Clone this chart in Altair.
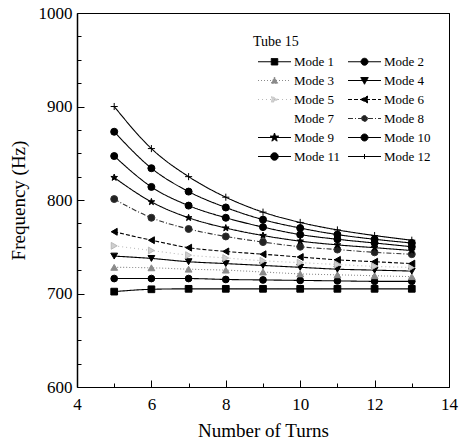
import altair as alt
import pandas as pd

# ---------------- data ----------------
turns = [5, 6, 7, 8, 9, 10, 11, 12, 13]
modes = [f"Mode {i}" for i in range(1, 13)]

mode1 = [702, 704.5, 705, 705, 705, 705, 705, 705, 705]
mode2 = [716, 716, 716, 715, 714.5, 714, 713.5, 713, 713]
mode3 = [728, 727.5, 726, 725, 723, 721, 720, 719, 718]
mode4 = [740, 737.5, 734, 732, 730, 728, 726, 725, 724]
mode5 = [751, 746, 741, 738, 735, 733, 731, 729, 728]
mode6 = [766, 757, 749, 745, 742, 739, 736, 734, 732]
mode8 = [801, 781, 769, 761, 755, 750, 747, 744, 742]
mode9 = [824, 798, 781, 770, 762, 756, 752, 749, 746]
mode10 = [847, 814, 794, 781, 771, 763, 758, 754, 750]
mode11 = [873, 834, 809, 792, 779, 770, 763, 758, 754]
mode12 = [900, 855, 825, 803, 787, 776, 768, 762, 757]

series = {
    "Mode 1": mode1, "Mode 2": mode2, "Mode 3": mode3, "Mode 4": mode4,
    "Mode 5": mode5, "Mode 6": mode6, "Mode 8": mode8, "Mode 9": mode9,
    "Mode 10": mode10, "Mode 11": mode11, "Mode 12": mode12,
}

x_labels = [4, 6, 8, 10, 12, 14]
x_ticks_major = [6, 8, 10, 12]
x_ticks_minor = [5, 7, 9, 11, 13]
y_labels = [600, 700, 800, 900, 1000]
y_ticks_major = [700, 800, 900]
y_ticks_minor = [625, 650, 675, 725, 750, 775, 825, 850, 875, 925, 950, 975]

rows = []
for m, vals in series.items():
    for t, v in zip(turns, vals):
        rows.append({"Turns": t, "Frequency": v, "Mode": m})
df = pd.DataFrame(rows)

# ---------------- styles ----------------
FONT = "Liberation Serif, Times New Roman, DejaVu Serif, serif"
W, H = 372, 374

line_colors = ["black", "black", "#8a8a8a", "black", "#b8b8b8", "black",
               "transparent", "#333333", "black", "black", "black", "black"]
dashes = [[1, 0], [1, 0], [1, 2], [1, 0], [1, 3], [4, 2],
          [1, 0], [5, 2, 1, 2], [1, 0], [1, 0], [1, 0], [1, 0]]
fills = ["black", "black", "#8a8a8a", "black", "#cfcfcf", "black",
         "transparent", "#222222", "black", "black", "black", "transparent"]

STAR = ("M0,-1L0.235,-0.324L0.951,-0.309L0.38,0.124L0.588,0.809L0,0.4"
        "L-0.588,0.809L-0.38,0.124L-0.951,-0.309L-0.235,-0.324Z")
PLUS = "M-1,0H1M0,-1V1"
point_shapes = ["square", "circle", "triangle-up", "triangle-down",
                "triangle-right", "triangle-left", "circle", "circle",
                STAR, "circle", "circle", PLUS]
point_sizes = [45, 50, 45, 60, 45, 50, 0, 40, 80, 55, 60, 50]

L = "M-3.3,0H3.3"
legend_shapes = [
    L + "M-0.65,-0.65H0.65V0.65H-0.65Z",
    L + "M0.7,0A0.7,0.7 0 1,1 -0.7,0A0.7,0.7 0 1,1 0.7,0Z",
    L + "M0,-0.7L0.7,0.6L-0.7,0.6Z",
    L + "M0,0.75L0.75,-0.6L-0.75,-0.6Z",
    L + "M0.7,0L-0.6,-0.7L-0.6,0.7Z",
    L + "M-0.75,0L0.6,-0.7L0.6,0.7Z",
    L,
    L + "M0.6,0A0.6,0.6 0 1,1 -0.6,0A0.6,0.6 0 1,1 0.6,0Z",
    L + "M0,-0.9L0.21,-0.29L0.86,-0.28L0.34,0.11L0.53,0.73L0,0.36"
        "L-0.53,0.73L-0.34,0.11L-0.86,-0.28L-0.21,-0.29Z",
    L + "M0.7,0A0.7,0.7 0 1,1 -0.7,0A0.7,0.7 0 1,1 0.7,0Z",
    L + "M0.75,0A0.75,0.75 0 1,1 -0.75,0A0.75,0.75 0 1,1 0.75,0Z",
    L + "M0,-0.5V0.5",
]

xs = alt.Scale(domain=[4, 14], nice=False, zero=False)
ys = alt.Scale(domain=[600, 1000], nice=False, zero=False)

# main axes (labels + titles)
x_main = alt.Axis(values=x_labels, ticks=False, grid=False, labelFlush=False,
                  labelPadding=9, title="Number of Turns", titlePadding=9,
                  domainColor="black", domainWidth=1.2, format="d")
y_main = alt.Axis(values=y_labels, ticks=False, grid=False,
                  labelPadding=5, title="Frequency (Hz)", titlePadding=10,
                  domainColor="black", domainWidth=1.5, format="d")

# inward ticks: opposite-side axes shifted onto the bottom/left edges
x_in_major = alt.Axis(orient="top", offset=-H, values=x_ticks_major, tickSize=7,
                      tickColor="black", tickWidth=1, labels=False, domain=False,
                      grid=False, title="")
x_in_minor = alt.Axis(orient="top", offset=-H, values=x_ticks_minor, tickSize=4,
                      tickColor="black", tickWidth=1, labels=False, domain=False,
                      grid=False, title="")
y_in_major = alt.Axis(orient="right", offset=-W, values=y_ticks_major, tickSize=7,
                      tickColor="black", tickWidth=1, labels=False, domain=False,
                      grid=False, title="")
y_in_minor = alt.Axis(orient="right", offset=-W, values=y_ticks_minor, tickSize=4,
                      tickColor="black", tickWidth=1, labels=False, domain=False,
                      grid=False, title="")
# frame: top and right domain lines
x_frame = alt.Axis(orient="top", ticks=False, labels=False, domain=True,
                   domainColor="black", domainWidth=1, grid=False, title="")
y_frame = alt.Axis(orient="right", ticks=False, labels=False, domain=True,
                   domainColor="black", domainWidth=1, grid=False, title="")

base = alt.Chart(df)

lines = base.mark_line(interpolate="monotone", strokeWidth=1.1).encode(
    x=alt.X("Turns:Q", scale=xs, axis=x_main),
    y=alt.Y("Frequency:Q", scale=ys, axis=y_main),
    stroke=alt.Stroke("Mode:N", scale=alt.Scale(domain=modes, range=line_colors), legend=None),
    strokeDash=alt.StrokeDash("Mode:N", scale=alt.Scale(domain=modes, range=dashes), legend=None),
)

points = base.mark_point(filled=True, strokeWidth=1, opacity=1).encode(
    x=alt.X("Turns:Q", scale=xs, axis=x_in_major),
    y=alt.Y("Frequency:Q", scale=ys, axis=y_in_major),
    shape=alt.Shape("Mode:N", scale=alt.Scale(domain=modes, range=point_shapes), legend=None),
    fill=alt.Fill("Mode:N", scale=alt.Scale(domain=modes, range=fills), legend=None),
    stroke=alt.Stroke("Mode:N", scale=alt.Scale(domain=modes, range=line_colors), legend=None),
    size=alt.Size("Mode:N", scale=alt.Scale(domain=modes, range=point_sizes), legend=None),
)

leg = alt.Legend(orient="none", legendX=176, legendY=22, columns=2, direction="horizontal",
                 title="Tube 15", titleFont=FONT, titleFontSize=14, titleFontWeight="normal",
                 titleColor="black", titlePadding=6, labelFont=FONT, labelFontSize=13,
                 labelColor="black", symbolSize=100, symbolOffset=15, labelOffset=13,
                 rowPadding=5, columnPadding=2, padding=0, symbolStrokeWidth=1,
                 symbolOpacity=1)

legend_layer = base.transform_filter("datum.Turns > 100").mark_point(
    filled=True, strokeWidth=1, opacity=1
).encode(
    x=alt.X("Turns:Q", scale=xs, axis=x_in_minor),
    y=alt.Y("Frequency:Q", scale=ys, axis=y_in_minor),
    shape=alt.Shape("Mode:N", scale=alt.Scale(domain=modes, range=legend_shapes), legend=leg),
    fill=alt.Fill("Mode:N", scale=alt.Scale(domain=modes, range=fills), legend=leg),
    stroke=alt.Stroke("Mode:N", scale=alt.Scale(domain=modes, range=line_colors), legend=leg),
    strokeDash=alt.StrokeDash("Mode:N", scale=alt.Scale(domain=modes, range=dashes), legend=leg),
)

frame_layer = base.transform_filter("datum.Turns > 100").mark_point(opacity=0).encode(
    x=alt.X("Turns:Q", scale=xs, axis=x_frame),
    y=alt.Y("Frequency:Q", scale=ys, axis=y_frame),
)

chart = alt.layer(
    lines, points, legend_layer, frame_layer
).resolve_scale(
    shape="independent", fill="independent", stroke="independent",
    strokeDash="independent", size="independent"
).resolve_axis(
    x="independent", y="independent"
).properties(
    width=W, height=H,
    autosize=alt.AutoSizeParams(type="none"),
    padding={"left": 77, "top": 13, "right": 10, "bottom": 58},
    background="white",
).configure_view(
    stroke="black", strokeWidth=1
).configure_axis(
    labelFont=FONT, labelFontSize=17, labelColor="black",
    titleFont=FONT, titleFontSize=19, titleFontWeight="normal", titleColor="black",
)

chart.save("out.html", embed_options={"renderer": "svg", "actions": False})
